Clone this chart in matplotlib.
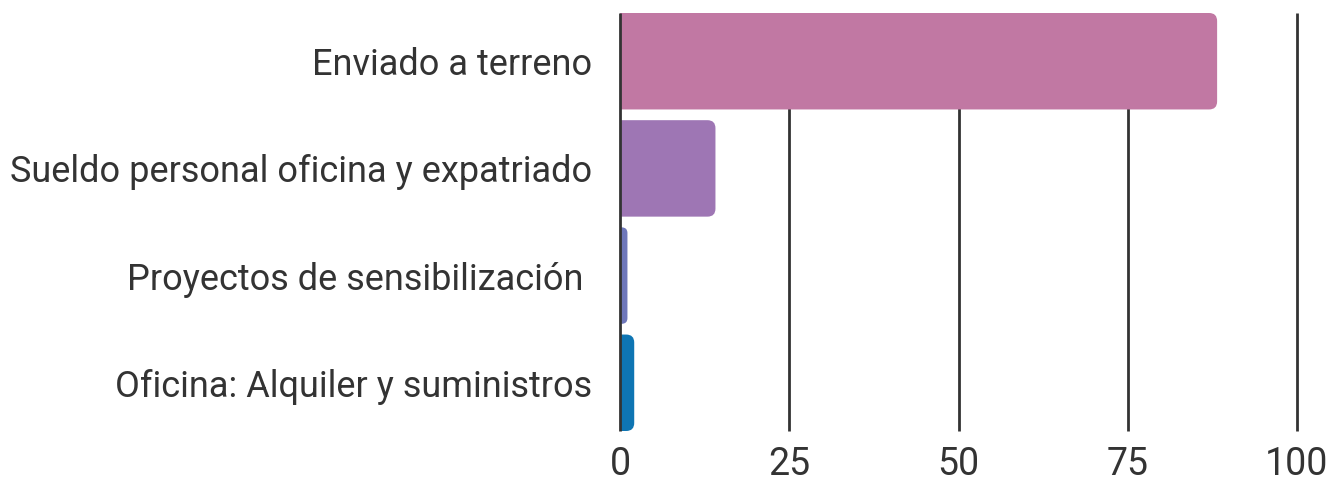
import matplotlib
matplotlib.use("Agg")
import matplotlib.pyplot as plt
from matplotlib.patches import FancyBboxPatch

# data
categories = ["Enviado a terreno", "Sueldo personal oficina y expatriado",
              "Proyectos de sensibilización ", "Oficina: Alquiler y suministros"]
values = [88.2, 14.1, 1.1, 2.1]
colors = ["#C178A3", "#9E76B4", "#6E77BA", "#0E75B3"]
xticks = [0, 25, 50, 75, 100]

plt.rcParams['font.family'] = ['Roboto', 'DejaVu Sans']
txt = "#333333"

fig = plt.figure(figsize=(13.34, 4.84), dpi=100)
ax = fig.add_axes([620/1334, 1 - 431/484, 677/1334, 418/484])

bar_h = 0.9
ax.set_xlim(0, 100)
ax.set_ylim(len(categories) - 1 + bar_h/2, -bar_h/2)

# rounded corners, same pixel radius in both directions
px_x = 677 / 100
px_y = 418 / (len(categories) - 1 + bar_h)
r_px = 8
for i, (v, c) in enumerate(zip(values, colors)):
    r = min(r_px / px_x, v / 2 + 0.3)
    box = FancyBboxPatch((-r, i - bar_h/2), v + r, bar_h,
                         boxstyle=f"round,pad=0,rounding_size={r}",
                         mutation_aspect=px_x / px_y,
                         fc=c, ec="none", zorder=2)
    ax.add_patch(box)

# grid lines, the one at 0 sits over the bars
for t in xticks:
    ax.axvline(t, color=txt, lw=2, zorder=3 if t == 0 else 1,
               clip_on=False, solid_capstyle='butt')

ax.set_yticks(range(len(categories)))
ax.set_yticklabels(categories, fontsize=26, color=txt)
ax.set_xticks(xticks)
ax.set_xticklabels([str(t) for t in xticks], fontsize=27, color=txt)
ax.tick_params(length=0)
ax.tick_params(axis='y', pad=20)
ax.tick_params(axis='x', pad=11)
for s in ax.spines.values():
    s.set_visible(False)

fig.savefig("out.png", dpi=100)
